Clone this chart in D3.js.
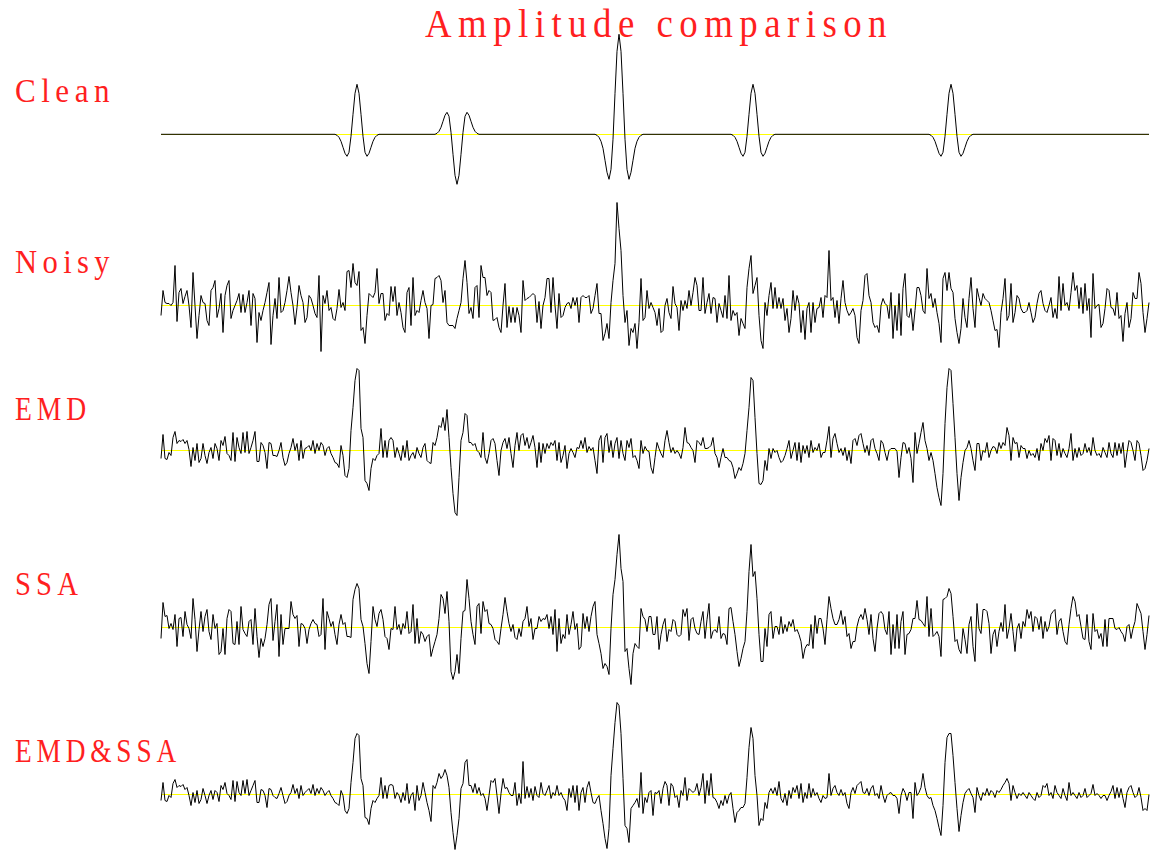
<!DOCTYPE html>
<html>
<head>
<meta charset="utf-8">
<title>Amplitude comparison</title>
<script src="https://d3js.org/d3.v7.min.js"></script>
<style>
  body { margin: 0; background: #fff; }
  .label { font-family: "Liberation Serif", "DejaVu Serif", serif; fill: #ff1f1f; letter-spacing: 6px; }
</style>
</head>
<body>
<script>
// trace names, top to bottom
var names = ["Clean", "Noisy", "EMD", "SSA", "EMD&SSA"];

// amplitudes, 495 samples per trace
var clean = [
  0,0,0,0,0,0,0,0,0,0, 0,0,0,0,0,0,0,0,0,0,
  0,0,0,0,0,0,0,0,0,0, 0,0,0,0,0,0,0,0,0,0,
  0,0,0,0,0,0,0,0,0,0, 0,0,0,0,0,0,0,0,0,0,
  0,0,0,0,0,0,0,0,0,0, 0,0,0,0,0,0,0,0,0,0,
  0,0,0,0,0,0,0,0,-1,-3, -7,-13,-19,-22,-18,-2,20,41,50,41,
  20,-2,-18,-22,-19,-13,-7,-3,-1,0, 0,0,0,0,0,0,0,0,0,0,
  0,0,0,0,0,0,0,0,0,0, 0,0,0,0,0,0,0,0,1,3,
  7,13,19,22,18,2,-20,-41,-50,-41, -20,2,18,22,19,13,7,3,1,0,
  0,0,0,0,0,0,0,0,0,0, 0,0,0,0,0,0,0,0,0,0,
  0,0,0,0,0,0,0,0,0,0, 0,0,0,0,0,0,0,0,0,0,
  0,0,0,0,0,0,0,0,0,0, 0,0,0,0,0,0,0,0,-1,-3,
  -7,-14,-26,-38,-45,-35,-5,41,83,100, 83,41,-5,-35,-45,-38,-26,-14,-7,-3,
  -1,0,0,0,0,0,0,0,0,0, 0,0,0,0,0,0,0,0,0,0,
  0,0,0,0,0,0,0,0,0,0, 0,0,0,0,0,0,0,0,0,0,
  0,0,0,0,0,0,-1,-3,-7,-13, -19,-22,-18,-2,20,41,50,41,20,-2,
  -18,-22,-19,-13,-7,-3,-1,0,0,0, 0,0,0,0,0,0,0,0,0,0,
  0,0,0,0,0,0,0,0,0,0, 0,0,0,0,0,0,0,0,0,0,
  0,0,0,0,0,0,0,0,0,0, 0,0,0,0,0,0,0,0,0,0,
  0,0,0,0,0,0,0,0,0,0, 0,0,0,0,0,0,0,0,0,0,
  0,0,0,0,0,-1,-3,-7,-13,-19, -22,-18,-2,20,41,50,41,20,-2,-18,
  -22,-19,-13,-7,-3,-1,0,0,0,0, 0,0,0,0,0,0,0,0,0,0,
  0,0,0,0,0,0,0,0,0,0, 0,0,0,0,0,0,0,0,0,0,
  0,0,0,0,0,0,0,0,0,0, 0,0,0,0,0,0,0,0,0,0,
  0,0,0,0,0,0,0,0,0,0, 0,0,0,0,0,0,0,0,0,0,
  0,0,0,0,0,0,0,0,0,0, 0,0,0,0,0
];

var noisy = [
  -10,15,3,2,2,0,3,40,-16,13, 17,2,9,15,0,-22,33,0,-33,-10,
  10,3,2,-15,-20,15,18,25,-12,-3, 12,-27,10,20,25,-13,-5,0,5,12,
  -7,11,-7,3,15,-20,12,7,-37,-7, -15,-5,3,13,23,-39,-10,7,-13,28,
  -7,-5,3,15,29,13,0,-19,-2,20, 10,3,-17,-12,10,7,0,-8,-12,30,
  -46,10,2,15,-5,-2,-13,-15,-3,16, -2,3,-5,34,35,18,42,23,20,34,
  -25,-22,-38,-10,12,10,8,13,37,2, 12,12,-15,-8,-10,19,4,19,-10,3,
  -7,-22,-27,13,18,-20,28,-10,-5,-7, 5,15,3,-3,-33,0,1,27,28,30,
  25,3,15,-17,-20,-20,-20,-23,-13,-5, 3,27,45,23,-8,-2,-13,18,20,-12,
  40,28,28,10,15,13,-15,-14,-12,-22, -27,0,22,-22,-1,-17,-2,-17,-2,-10,
  -27,25,5,7,8,10,12,10,-17,4, -23,0,8,27,27,-7,28,0,-23,12,
  -12,-10,-2,2,3,-3,8,0,8,-17, 8,10,8,8,10,-8,-3,10,22,-8,
  -8,-35,-28,-18,-33,3,25,42,103,77, 55,10,-17,-5,-40,-23,-27,-18,-43,-17,
  27,-15,-12,15,-3,
  3,-2,-7,-20,-3,-27,-25,0,7,-7, -13,19,2,-2,-25,5,-5,5,-3,15,
  0,13,28,20,-5,-5,28,-8,3,12, -8,8,7,-17,2,-5,-12,10,-13,30,
  -15,-5,-10,-7,-30,-13,-18,-23,18,37, 50,12,20,28,-10,-35,-43,3,-10,10,
  23,-3,18,-3,8,-3,7,-15,-3,-27, -13,15,-5,10,2,-27,-5,-34,-3,3,
  -27,3,-17,-3,-2,8,-12,10,8,55, 5,8,-12,5,-18,7,25,3,-5,-10,
  -7,-3,-10,-32,-38,-5,5,30,32,10, 3,-17,-22,-20,-27,0,7,2,0,-13,
  13,-33,0,-25,12,-30,17,32,-10,-12, -3,-25,-5,18,18,10,-5,-8,37,7,
  12,-2,7,-7,-18,-37,27,33,15,33, 17,13,-13,-27,-38,-23,7,-12,-22,7,
  28,-3,-22,17,8,0,12,7,5,3, -5,-15,-25,-24,-42,-7,7,27,-15,-10,
  22,-17,-7,10,7,-3,-7,-7,-5,3, -7,-17,-12,2,12,15,2,-5,-7,0,
  8,-12,-3,-13,29,-5,22,0,3,-5, 13,33,15,20,-3,18,-8,22,-5,7,
  -32,32,-3,0,1,-22,-18,-3,17,15, -2,-3,-10,13,-13,-10,-36,-8,3,-22,
  -13,13,7,7,33,22,-7,-27,-13,3
];

var emd = [
  -8,16,-8,-9,-2,-5,13,19,7,10, 9,11,7,10,1,-16,3,-10,7,-12,
  -8,7,-5,-13,-2,3,-8,7,2,-10, 10,5,14,-3,-5,-10,18,-11,13,3,
  -3,18,-2,19,-3,3,10,19,-11,-11, 8,5,-2,-18,8,7,-5,-5,-6,0,
  8,-7,-15,-12,-3,3,12,0,7,-10, 10,-8,2,3,5,0,10,-3,7,0,
  8,5,-5,2,4,-3,-7,-12,-13,-17, 5,-5,-25,-27,-18,20,43,70,82,80,
  22,13,-30,-33,-40,-18,-8,-10,-5,-3, 22,-7,10,-7,10,13,10,-7,3,-3,
  -10,5,-7,10,-10,-5,-2,-8,3,-3, -7,3,7,-10,-12,-13,8,5,13,25,
  23,33,20,41,13,-17,-43,-62,-65,-27, 10,18,37,35,8,8,5,7,0,-2,
  -7,18,-7,-13,-3,10,12,7,-10,-25, 0,8,12,2,13,-3,-17,5,18,0,
  15,17,5,13,2,8,15,3,-17,8, -12,7,-3,7,2,8,5,10,-10,8,
  -12,-5,5,-18,-3,2,-2,-7,3,2, 10,2,13,-2,4,0,3,-10,-23,10,
  15,-12,13,17,-2,10,-7,7,13,-8, 10,-3,-10,10,3,12,-7,-5,-10,-18,
  10,-3,4,0,-1,
  -17,-23,-7,8,2,-3,-7,10,20,8, -2,3,-3,0,-3,-8,3,23,8,7,
  3,0,-12,10,8,5,13,2,2,3, 5,13,-3,-7,-17,-7,2,-7,-7,-10,
  -11,-17,-28,-23,-17,-20,-13,-3,20,43, 73,70,33,-3,-33,-34,-30,-10,-20,2,
  -8,2,-2,0,-7,-12,-10,-5,2,10, -8,0,8,-10,8,-12,5,-3,5,-7,
  10,-2,3,0,7,-7,-2,-2,10,24, -7,12,17,7,-2,2,-5,3,-10,0,
  -13,10,12,5,15,17,7,-2,5,-5, 10,12,2,-3,-10,10,7,-2,-10,0,
  2,2,2,-1,-27,-7,8,7,-3,3, -8,-32,18,-3,7,18,28,10,2,-10,
  -2,-10,-23,-37,-47,-55,-23,27,63,82, 80,47,13,-23,-50,-27,-12,0,3,10,
  2,-10,-20,7,7,-10,0,-2,8,-7, 0,4,3,-3,8,2,8,5,23,15,
  -10,13,7,8,-7,5,2,2,-8,0, -5,-3,-7,2,-10,7,0,12,8,15,
  -10,12,10,-5,7,-7,2,-3,-7,2, 17,-10,2,-7,3,-5,-3,7,-2,3,
  -5,13,0,-5,-3,-7,3,-2,-7,8, -3,-7,8,-5,7,-3,8,-17,-2,10,
  8,0,-10,10,7,-5,-20,-18,-10,2
];

var ssa = [
  -11,25,11,12,-1,4,-2,13,-19,9, 10,-9,16,3,-1,-11,29,8,-24,-2,
  16,-4,11,18,-4,-12,13,-1,4,-27, -24,-1,-27,9,18,16,-16,-17,6,-17,
  21,-2,-6,-9,6,8,-17,19,-9,-30, -11,-19,-11,3,23,29,-13,6,23,-29,
  13,-17,-1,-1,-1,26,13,9,12,-19, 4,3,-1,-16,-2,4,8,4,3,-9,
  -7,29,-22,16,9,1,6,-7,-17,3, 13,3,5,-9,-9,-10,28,38,44,39,
  8,1,-16,-36,-46,-14,21,8,1,14, 18,8,-9,-11,-22,-1,-2,21,-2,3,
  -7,4,-1,16,-6,-4,23,-16,9,-16, -4,-7,-14,-9,-7,-29,-21,-14,-7,9,
  33,29,14,36,6,-44,-52,-44,-27,-46, -11,16,17,48,29,6,-7,-17,21,24,
  -6,26,16,18,4,3,-1,-12,-14,-17, -1,13,30,16,4,-4,3,-10,-12,-1,
  -9,6,9,21,1,9,-12,-1,-1,11, 6,9,8,13,-1,11,-7,18,-24,9,
  -16,-7,-11,13,-7,3,16,-2,4,-22, -19,14,-1,11,-4,11,21,26,-7,-16,
  -26,-41,-36,-39,-47,-1,33,48,73,93, 59,46,-24,-21,-41,-57,-26,-16,-19,-21,
  19,11,8,-4,11,
  11,-7,-7,11,-22,-7,3,9,-14,-2, -4,8,6,-7,-9,-7,18,11,19,-13,
  8,10,-1,-6,-7,6,16,-11,8,24, -11,-4,-2,-5,11,-11,-6,-7,-17,19,
  20,6,-7,-24,-39,-31,-21,-14,16,56, 83,51,56,29,-7,-34,-34,-1,-19,13,
  16,-11,1,1,-7,11,-6,3,-4,6, 1,8,-4,-2,-7,-14,-31,-21,-17,-18,
  3,-21,12,-6,9,9,-1,-17,8,31, 19,9,3,3,8,17,3,11,-9,-6,
  -21,-14,-14,1,9,13,8,19,8,-7, 13,-11,-24,-1,14,16,13,-2,-7,16,
  -27,3,-21,13,-21,6,16,-27,-7,-6, -2,9,9,27,8,7,4,1,31,-9,
  19,-9,-7,-4,-9,-29,28,29,31,39, 34,11,-14,-12,-22,-26,-1,-12,-26,3,
  11,-19,-34,24,-1,-6,18,18,16,4, -26,-7,-2,-19,-4,5,-4,23,-11,-1,
  14,-4,-24,-1,4,-11,6,1,18,9, 16,-4,11,9,-2,11,-11,6,-4,1,
  13,16,18,-7,6,9,-4,-14,-17,3, 19,31,26,11,13,1,-11,-12,13,-14,
  -22,14,-4,-2,-11,-6,-19,8,-19,9, 9,9,-1,-2,0,-4,-7,-14,1,3,
  -11,-1,6,24,19,14,-4,-22,-7,12
];

var emdSsa = [
  -6,12,-6,-7,-1,-3,11,15,7,9, 8,10,5,7,-1,-11,2,-8,4,-9,
  -5,6,-1,-9,-1,4,-5,4,2,-7, 9,5,12,1,-1,-5,14,-7,13,2,
  -1,14,1,15,-1,4,9,14,-8,-8, 5,4,-1,-13,6,5,-1,-3,-4,1,
  7,-1,-9,-7,-1,2,10,1,6,-4, 9,-1,2,4,6,1,10,-1,6,1,
  7,4,-1,2,4,-1,-4,-8,-9,-11, 4,-1,-16,-19,-14,12,32,56,61,59,
  16,9,-23,-24,-30,-14,-6,-8,-4,-1, 17,-4,9,-4,9,10,9,-4,2,-1,
  -8,2,-6,11,-9,-1,2,-16,9,-6, -1,12,2,-8,-16,-27,9,6,12,21,
  16,19,25,19,7,-18,-38,-55,-41,-24, 6,11,32,35,9,9,2,11,1,7,
  -1,1,-4,-16,-1,14,12,16,-1,-19, 1,16,6,7,2,-1,-1,12,-11,1,
  -9,33,-4,8,-3,6,-6,8,-1,-3, 12,1,-1,4,9,-4,2,-1,9,-1,
  2,-3,-6,-16,6,-3,9,-8,9,-16, 2,7,-8,7,13,2,-8,-9,-4,-1,
  -16,-29,-44,-54,-34,19,46,72,92,89, 61,16,-31,-34,-48,-14,-11,-8,-4,-13,
  22,-19,-3,-8,2,
  4,-21,2,1,4,-9,6,13,9,-11, 11,8,-3,-1,-13,4,-1,17,-6,6,
  4,2,4,11,-1,7,21,-9,14,-1, 21,-3,-4,-8,-14,-6,-11,-1,-9,-1,
  2,-14,-28,-18,-16,-13,-13,-9,17,47, 67,56,19,-1,-31,-24,-26,-8,-14,2,
  6,1,7,-1,13,-4,-8,1,-11,4, -4,7,2,9,-4,11,-8,2,-4,11,
  -3,6,-1,2,-4,-8,-1,-4,-3,21, -1,6,9,2,-1,5,-1,2,-9,-14,
  2,7,1,9,11,13,2,1,6,-1, 6,9,-1,1,-4,9,-1,-8,-1,1,
  2,-1,-1,-4,-19,-1,6,2,-6,2, 2,-24,12,-1,2,7,21,7,-1,-4,
  -3,-11,-16,-24,-33,-41,-11,32,57,61, 61,39,12,-14,-37,-21,-8,1,4,6,
  1,-3,-18,7,-1,-6,2,-1,6,-1, 4,2,-3,4,2,5,9,12,16,11,
  -6,9,2,-4,1,-1,2,-1,-4,2, -1,-4,-6,2,-3,-1,9,7,11,-1,
  2,-4,9,2,-1,-4,6,-1,-6,12, -1,2,-1,-4,2,-3,-1,6,-3,-1,
  1,10,-1,1,-1,-4,-1,-1,-6,-1, 3,9,-4,7,-3,6,-4,-13,2,7,
  9,2,-3,-1,7,-3,-16,-14,-16,0
];

var traces = [clean, noisy, emd, ssa, emdSsa];

var width = 1156, height = 850;

// layout of the five panels
var baselines = [134.3, 305.5, 450.5, 627.5, 794.5];
var labelY = [102, 273, 420, 595, 762];
var labelW = [100, 100, 76, 68, 166];

var svg = d3.select("body")
    .append("svg")
    .attr("width", width)
    .attr("height", height);

var x = d3.scaleLinear()
    .domain([0, clean.length - 1])
    .range([161, 1149]);

svg.append("text")
    .attr("class", "label")
    .attr("x", 425)
    .attr("y", 37)
    .attr("textLength", 468)
    .attr("lengthAdjust", "spacingAndGlyphs")
    .style("font-size", "40px")
    .style("letter-spacing", "7px")
    .text("Amplitude comparison");

traces.forEach(function (trace, i) {
    var y = d3.scaleLinear()
        .domain([-100, 100])
        .range([baselines[i] + 100, baselines[i] - 100]);

    // zero line, on the pixel row of the baseline
    var y0 = Math.floor(y(0)) + 0.5;
    svg.append("line")
        .attr("x1", x(0))
        .attr("x2", x(trace.length - 1))
        .attr("y1", y0)
        .attr("y2", y0)
        .style("stroke", "#ffff00")
        .style("stroke-width", 1);

    var line = d3.line()
        .x(function (d, j) { return x(j); })
        .y(function (d) { return y(d); });

    svg.append("path")
        .datum(trace)
        .attr("d", line)
        .style("fill", "none")
        .style("stroke", "#000")
        .style("stroke-width", 1);

    svg.append("text")
        .attr("class", "label")
        .attr("x", 15)
        .attr("y", labelY[i])
        .attr("textLength", labelW[i])
        .attr("lengthAdjust", "spacingAndGlyphs")
        .style("font-size", "34px")
        .text(names[i]);
});
</script>
</body>
</html>
